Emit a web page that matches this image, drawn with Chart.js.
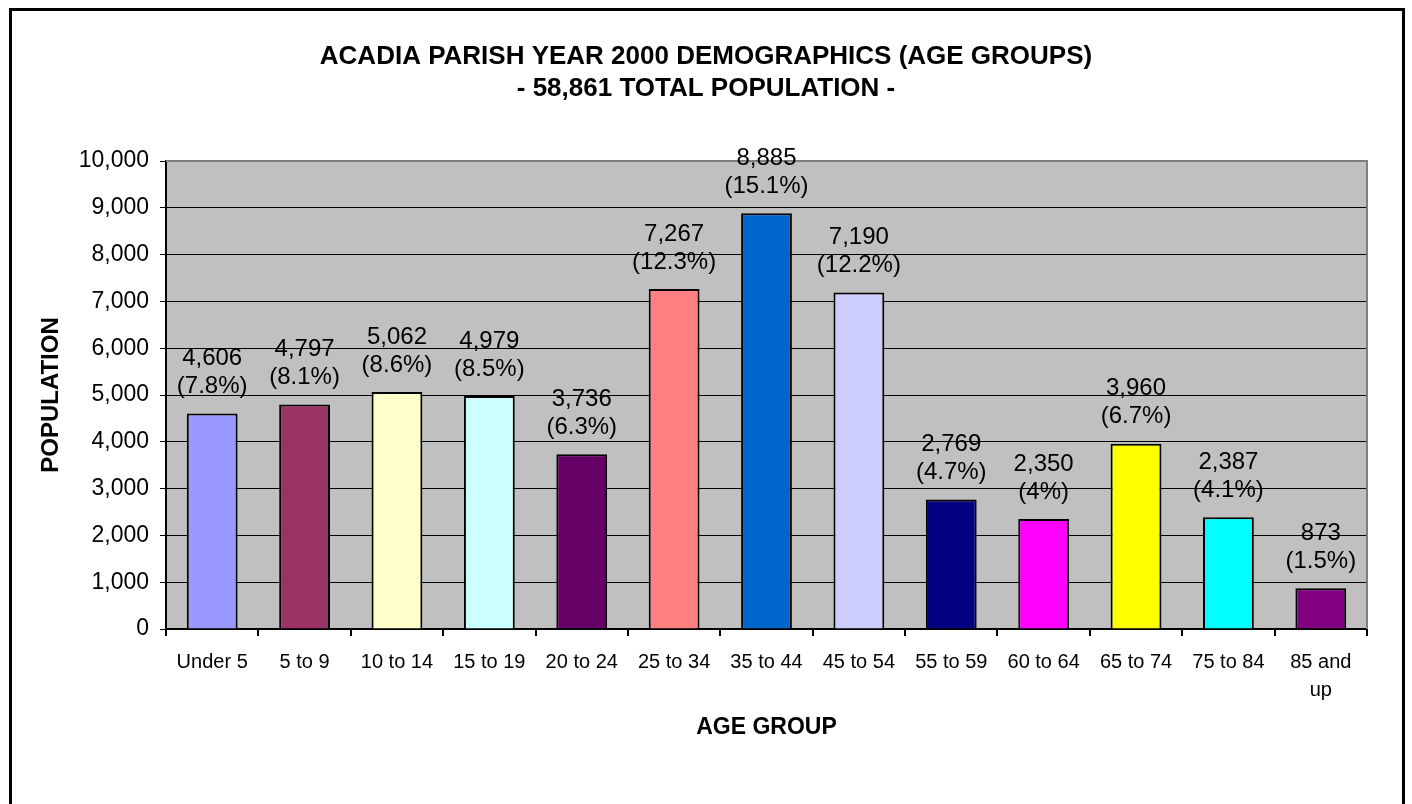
<!DOCTYPE html>
<html>
<head>
<meta charset="utf-8">
<script src="https://cdn.jsdelivr.net/npm/chart.js@4.4.1/dist/chart.umd.min.js"></script>
<style>
  html, body { margin: 0; padding: 0; background: #fff; }
</style>
</head>
<body>
<canvas id="chart" width="1412" height="804"></canvas>
<script>
// data
const ageGroups = ["Under 5", "5 to 9", "10 to 14", "15 to 19", "20 to 24", "25 to 34", "35 to 44",
  "45 to 54", "55 to 59", "60 to 64", "65 to 74", "75 to 84", ["85 and", "up"]];
const population = [4606, 4797, 5062, 4979, 3736, 7267, 8885, 7190, 2769, 2350, 3960, 2387, 873];
const shares = ["7.8%", "8.1%", "8.6%", "8.5%", "6.3%", "12.3%", "15.1%", "12.2%", "4.7%", "4%", "6.7%", "4.1%", "1.5%"];
const barColors = ["#9999FF", "#993366", "#FFFFCC", "#CCFFFF", "#660066", "#FF8080", "#0066CC",
  "#CCCCFF", "#000080", "#FF00FF", "#FFFF00", "#00FFFF", "#800080"];
const titleLines = ["ACADIA PARISH YEAR 2000 DEMOGRAPHICS (AGE GROUPS)", "- 58,861 TOTAL POPULATION -"];

const FONT = "'Liberation Sans', Arial, sans-serif";

// white page, gray plot area, outer frame
const backdrop = {
  id: "backdrop",
  beforeDraw(chart) {
    const { ctx, chartArea: a } = chart;
    ctx.save();
    ctx.fillStyle = "#fff";
    ctx.fillRect(0, 0, chart.width, chart.height);
    ctx.fillStyle = "#c0c0c0";
    ctx.fillRect(a.left, a.top, a.right - a.left, a.bottom - a.top);
    ctx.restore();
  },
  beforeDatasetsDraw(chart) {
    const { ctx, chartArea: a } = chart;
    ctx.save();
    ctx.strokeStyle = "#808080";
    ctx.lineWidth = 2;
    ctx.beginPath();
    ctx.moveTo(a.left, a.top);
    ctx.lineTo(a.right, a.top);
    ctx.lineTo(a.right, a.bottom);
    ctx.stroke();
    ctx.restore();
  },
  afterDraw(chart) {
    const ctx = chart.ctx;
    ctx.save();
    ctx.strokeStyle = "#000";
    ctx.lineWidth = 3;
    ctx.strokeRect(10.5, 9.5, 1393, 900);
    ctx.restore();
  }
};

// value + share above each bar
const barLabels = {
  id: "barLabels",
  afterDatasetsDraw(chart) {
    const { ctx } = chart;
    const meta = chart.getDatasetMeta(0);
    ctx.save();
    ctx.fillStyle = "#000";
    ctx.font = "24px " + FONT;
    ctx.textAlign = "center";
    ctx.textBaseline = "middle";
    meta.data.forEach((bar, i) => {
      ctx.fillText(population[i].toLocaleString("en-US"), bar.x, bar.y - 55);
      ctx.fillText("(" + shares[i] + ")", bar.x, bar.y - 27);
    });
    ctx.restore();
  }
};

new Chart(document.getElementById("chart"), {
  type: "bar",
  data: {
    labels: ageGroups,
    datasets: [{
      label: "Population",
      data: population,
      backgroundColor: barColors,
      borderColor: "#000",
      borderWidth: 2,
      barPercentage: 0.55,
      categoryPercentage: 1
    }]
  },
  options: {
    responsive: false,
    animation: false,
    layout: { padding: 0 },
    plugins: {
      legend: { display: false },
      tooltip: { enabled: false },
      title: {
        display: true,
        text: titleLines,
        color: "#000",
        font: { family: FONT, size: 26, weight: "bold", lineHeight: "32px" },
        padding: { top: 41, bottom: 56 }
      }
    },
    scales: {
      x: {
        grid: { drawOnChartArea: false, drawTicks: true, tickLength: 7, color: "#000", lineWidth: 2 },
        border: { color: "#000", width: 2 },
        ticks: { color: "#000", font: { family: FONT, size: 20, lineHeight: 1.4 }, padding: 12, maxRotation: 0, autoSkip: false },
        title: {
          display: true, text: "AGE GROUP", color: "#000",
          font: { family: FONT, size: 23, weight: "bold" },
          padding: { top: 0, bottom: 63 }
        },
        afterFit(s) { s.height = 175; }
      },
      y: {
        min: 0,
        max: 10000,
        grid: {
          color: (c) => c.tick && c.tick.value === 10000 ? "#808080" : "#000",
          tickColor: "#000",
          lineWidth: 1,
          tickLength: 6
        },
        border: { color: "#000", width: 2 },
        ticks: {
          stepSize: 1000,
          color: "#000",
          padding: 11,
          font: { family: FONT, size: 23 },
          callback: (v) => v.toLocaleString("en-US")
        },
        title: {
          display: true, text: "POPULATION", color: "#000",
          font: { family: FONT, size: 24, weight: "bold" },
          padding: { top: 37, bottom: 0 }
        },
        afterFit(s) { s.width = 166; }
      },
      // empty right-hand margin so the plot ends where the reference's does
      margin: {
        type: "linear",
        position: "right",
        display: true,
        grid: { display: false },
        border: { display: false },
        ticks: { display: false },
        afterFit(s) { s.width = 45; }
      }
    }
  },
  plugins: [backdrop, barLabels]
});
</script>
</body>
</html>
